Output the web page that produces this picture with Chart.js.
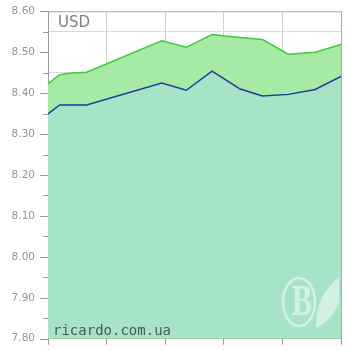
<!DOCTYPE html>
<html>
<head>
<meta charset="utf-8">
<script src="https://cdn.jsdelivr.net/npm/chart.js@4"></script>
<style>
  html, body { margin: 0; padding: 0; background: #fff; }
  #wrap { width: 350px; height: 350px; }
</style>
</head>
<body>
<div id="wrap"><canvas id="grafico" width="350" height="350"></canvas></div>
<script>
// datos
var dias   = [0, 1, 2, 3.3, 9.7, 11.8, 14, 15.3, 16.4, 18.3, 20.5, 22.8, 25];
var venta  = [8.423, 8.445, 8.449, 8.451, 8.528, 8.512, 8.543, 8.539, 8.536, 8.531, 8.495, 8.500, 8.519];
var compra = [8.349, 8.371, 8.371, 8.371, 8.425, 8.407, 8.454, 8.430, 8.410, 8.393, 8.397, 8.409, 8.441];
var yMin = 7.80, yMax = 8.60, yPaso = 0.05;
var xMin = 0, xMax = 25, xPaso = 5;
var moneda = "USD";
var marca = "ricardo.com.ua";

function puntos(ys) {
    return dias.map(function (d, i) { return { x: d, y: ys[i] }; });
}
function esMayor(v) {
    return Math.round(v * 100) % 10 === 0;
}

// marco, marcas del eje y textos
var decor = {
    id: "decor",
    afterDatasetsDraw: function (chart) {
        var c = chart.ctx;
        c.save();
        // logo
        c.strokeStyle = "rgba(255,255,255,0.5)";
        c.fillStyle = "rgba(255,255,255,0.5)";
        c.lineWidth = 2.5;
        c.beginPath();
        c.ellipse(299, 302, 16, 24, 0, 0, Math.PI * 2);
        c.stroke();
        c.save();
        c.translate(302, 304);
        c.scale(0.7, 1);
        c.font = "bold 44px 'Liberation Serif'";
        c.textAlign = "center";
        c.textBaseline = "middle";
        c.fillText("B", 0, 0);
        c.restore();
        c.beginPath();
        c.moveTo(316, 328);
        c.quadraticCurveTo(315, 296, 339, 277);
        c.lineTo(339, 301);
        c.quadraticCurveTo(333, 320, 316, 328);
        c.fill();
        // textos
        c.textAlign = "left";
        c.textBaseline = "alphabetic";
        c.fillStyle = "#808080";
        c.font = "15px 'DejaVu Sans'";
        c.fillText(moneda, 58, 27);
        c.fillStyle = "#3f5f4f";
        c.font = "14px 'DejaVu Sans Mono'";
        c.fillText(marca, 53, 335);
        c.restore();
    },
    afterDraw: function (chart) {
        var c = chart.ctx, a = chart.chartArea, y = chart.scales.y;
        c.save();
        c.strokeStyle = "#aaaaaa";
        c.lineWidth = 1;
        c.beginPath();
        c.moveTo(a.left, a.top + 0.5);
        c.lineTo(a.right + 0.5, a.top + 0.5);
        c.lineTo(a.right + 0.5, a.bottom);
        c.stroke();
        c.strokeStyle = "#999999";
        y.ticks.forEach(function (t) {
            var py = Math.round(y.getPixelForValue(t.value)) + 0.5;
            var largo = esMayor(t.value) ? 8 : 5;
            c.beginPath();
            c.moveTo(a.left - largo, py);
            c.lineTo(a.left, py);
            c.stroke();
        });
        c.restore();
    }
};

var ctx = document.getElementById("grafico").getContext("2d");
var grafico = new Chart(ctx, {
    type: "line",
    data: {
        datasets: [
            {
                label: "Compra",
                data: puntos(compra),
                borderColor: "#1d3c9c",
                borderWidth: 1.5,
                backgroundColor: "#a7e3c7",
                fill: "start",
                pointRadius: 0,
                tension: 0
            },
            {
                label: "Venta",
                data: puntos(venta),
                borderColor: "#3ccc3c",
                borderWidth: 1.5,
                backgroundColor: "#a6eaa6",
                fill: "start",
                pointRadius: 0,
                tension: 0
            }
        ]
    },
    options: {
        responsive: false,
        animation: false,
        layout: { padding: { top: 10, right: 9, left: 0, bottom: 0 } },
        plugins: { legend: { display: false }, tooltip: { enabled: false } },
        scales: {
            x: {
                type: "linear",
                min: xMin,
                max: xMax,
                ticks: { stepSize: xPaso, display: false },
                grid: {
                    color: function (c) { return c.index === 0 ? "transparent" : "#d2d2d2"; },
                    tickColor: "#999999",
                    tickLength: 6
                },
                border: { color: "#999999" },
                afterFit: function (s) { s.height = 8; }
            },
            y: {
                min: yMin,
                max: yMax,
                ticks: {
                    stepSize: yPaso,
                    color: "#959595",
                    padding: 5,
                    font: { family: "DejaVu Sans", size: 10.5 },
                    callback: function (v) { return esMayor(v) ? v.toFixed(2) : ""; }
                },
                grid: {
                    color: function (c) { return c.tick && esMayor(c.tick.value) ? "transparent" : "#d9d9d9"; },
                    tickColor: "transparent",
                    tickLength: 8
                },
                border: { color: "#999999" },
                afterFit: function (s) { s.width = 48; }
            }
        }
    },
    plugins: [decor]
});
</script>
</body>
</html>
